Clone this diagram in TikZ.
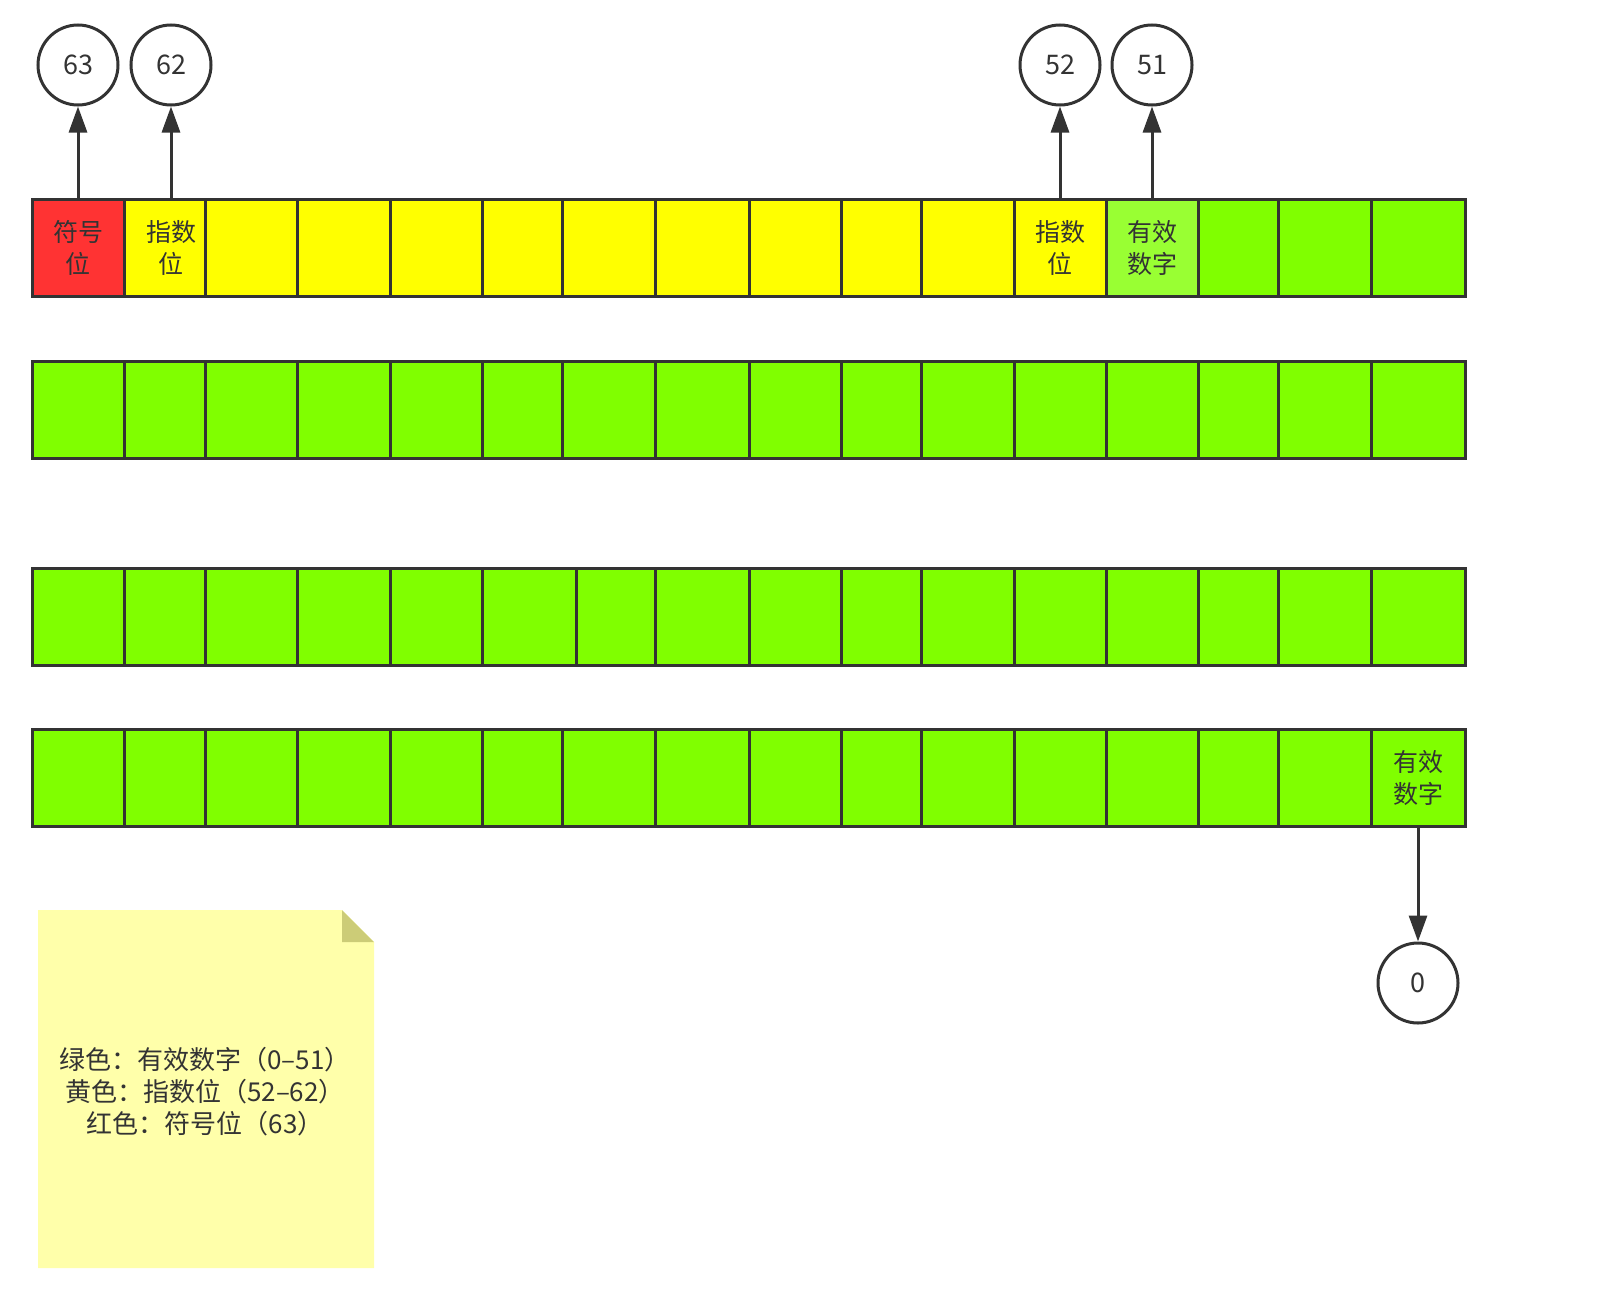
\documentclass[tikz,border=0pt]{standalone}
\usepackage{fontspec}
\setmainfont{Noto Sans CJK SC}
\usetikzlibrary{arrows.meta}
\definecolor{linegray}{HTML}{333333}
\definecolor{signred}{HTML}{FF3333}
\definecolor{expyellow}{HTML}{FFFF00}
\definecolor{mantgreen}{HTML}{80FF00}
\definecolor{mantlight}{HTML}{99FF33}
\definecolor{notefill}{HTML}{FFFFAA}
\definecolor{notefold}{HTML}{CCCC77}

\begin{document}
\begin{tikzpicture}[x=1pt,y=-1pt,
                every node/.style={text=linegray,align=center,font=\fontsize{25}{32}\selectfont},
                cell/.style={draw=linegray,line width=3pt,rectangle,minimum height=97pt,inner sep=0pt},
                bit/.style={draw=linegray,line width=3pt,circle,minimum size=80pt,inner sep=0pt,
                            font=\fontsize{27}{32}\selectfont},
                link/.style={draw=linegray,line width=3pt,-{Triangle[length=26pt,width=18pt]}}]
  \useasboundingbox (0,0) rectangle (1606,1290);
  % first word: sign, exponent and start of mantissa
  \foreach \a/\b/\c/\t [count=\i] in {32/124/signred/{符号\\位},124/218/expyellow/{指数\\位},
      205/297/expyellow/{},297/390/expyellow/{},390/482/expyellow/{},482/562/expyellow/{},
      562/655/expyellow/{},655/749/expyellow/{},749/841/expyellow/{},841/921/expyellow/{},
      921/1014/expyellow/{},1014/1106/expyellow/{指数\\位},1106/1198/mantlight/{有效\\数字},
      1198/1278/mantgreen/{},1278/1371/mantgreen/{},1371/1465/mantgreen/{}}
    \node[cell,fill=\c,minimum width=\b-\a] (r1c\i) at ({(\a+\b)/2},248.3) {\t};
  % remaining mantissa
  \foreach \r/\y/\m in {2/410.1/562,3/616.5/576,4/778.3/562}
    \foreach \a/\b [count=\i] in {32/124,124/205,205/297,297/390,390/482,482/\m,\m/655,
        655/749,749/841,841/921,921/1014,1014/1106,1106/1198,1198/1278,1278/1371,1371/1465}
      \node[cell,fill=mantgreen,minimum width=\b-\a] (r\r c\i) at ({(\a+\b)/2},\y) {};
  \node (r4c16text) at (r4c16) {有效\\数字};

  \node[bit] (b63) at (78,65) {63};
  \node[bit] (b62) at (171,65) {62};
  \node[bit] (b52) at (1060,65) {52};
  \node[bit] (b51) at (1152,65) {51};
  \node[bit] (b0) at (1418,983) {0};
  \draw[link] (r1c1.north) -- (b63.south);
  \draw[link] (r1c2.north) -- (b62.south);
  \draw[link] (r1c12.north) -- (b52.south);
  \draw[link] (r1c13.north) -- (b51.south);
  \draw[link] (r4c16.south) -- (b0.north);

  % legend note
  \fill[notefill] (38,910) -- (342,910) -- (374,942) -- (374,1268) -- (38,1268) -- cycle;
  \fill[notefold] (342,910) -- (374,942) -- (342,942) -- cycle;
  \node[font=\fontsize{26}{32}\selectfont] (legend) at (205,1092)
    {绿色：有效数字（0–51）\\黄色：指数位（52–62）\\红色：符号位（63）};
\end{tikzpicture}
\end{document}
